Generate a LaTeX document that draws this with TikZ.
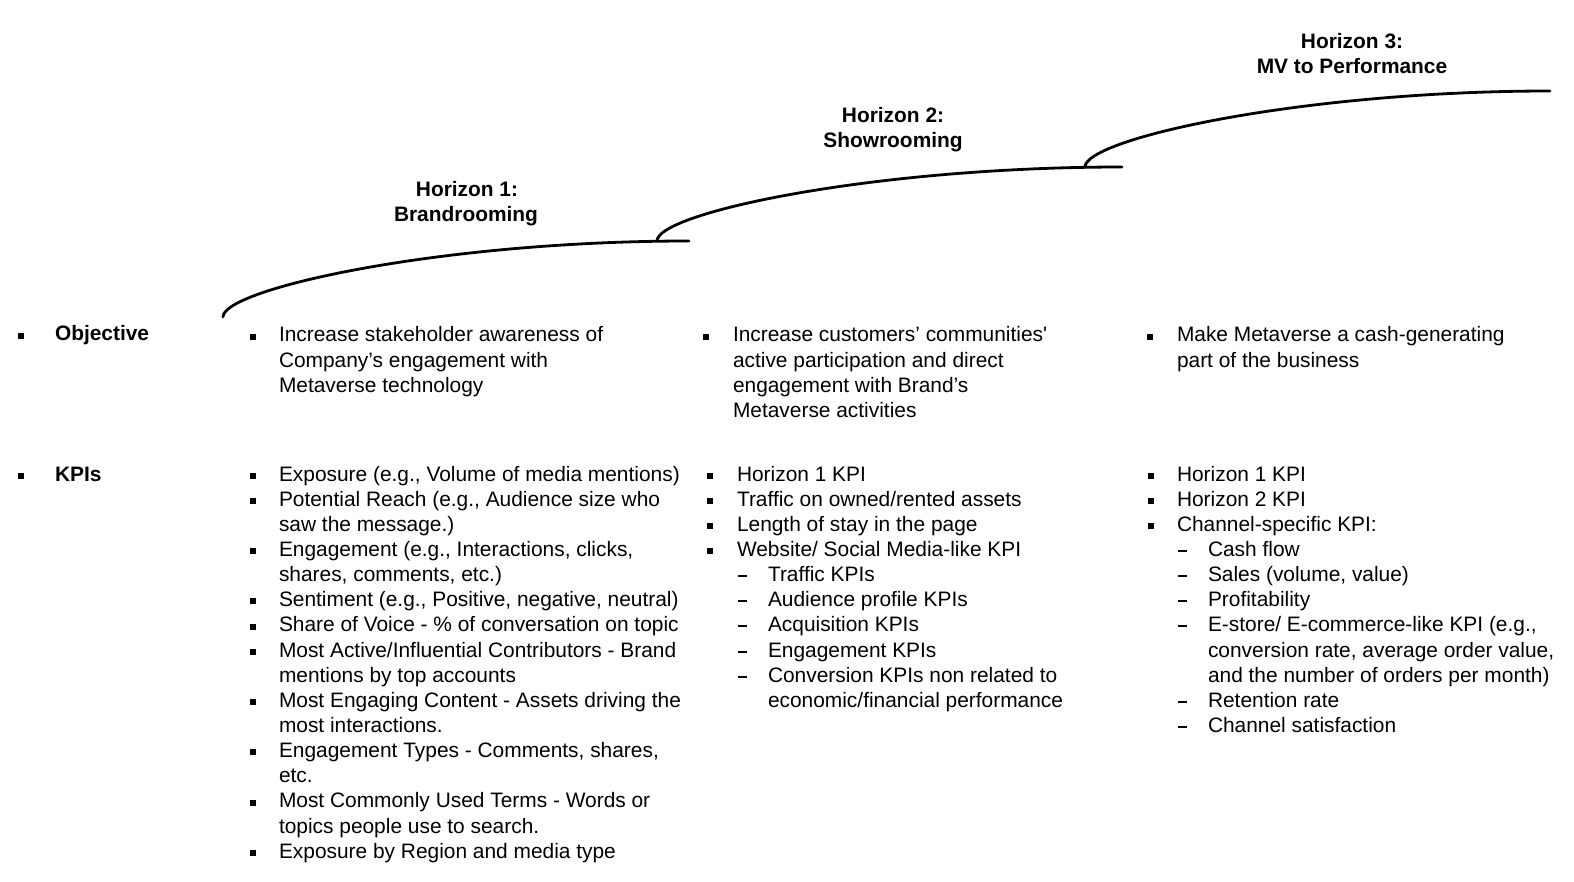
\documentclass[tikz,border=0pt]{standalone}
\usepackage{fontspec}
\setmainfont{Liberation Sans}
\tikzset{
  txt/.style={inner sep=0pt, outer sep=0pt, anchor=base west, font=\fontsize{20.9}{25.15}\selectfont},
  head/.style={inner sep=0pt, outer sep=0pt, anchor=base, font=\fontsize{20.9}{25.15}\selectfont\bfseries},
  bul/.style={fill=black, inner sep=0pt, minimum width=6pt, minimum height=6pt, rectangle},
  dsh/.style={fill=black, inner sep=0pt, minimum width=9pt, minimum height=2pt, rectangle},
  horizon/.style={line width=2.8pt, line cap=round}
}
\newcommand\Ln[4]{\node[txt] (#1) at (#2,{#3}) {#4};}
\newcommand\Bu[3]{\node[bul] (#1) at ({#2+3},{#3-5.4}) {};}
\newcommand\Da[3]{\node[dsh] (#1) at ({#2+4.5},{#3-5.5}) {};}
\begin{document}
\begin{tikzpicture}[x=1pt,y=-1pt]
\useasboundingbox (0,0) rectangle (1574,882);
\fill[white] (0,0) rectangle (1574,882);

% horizon curves
\coordinate (c1s) at (223,317);
\coordinate (c1e) at (689,241);
\coordinate (c2s) at (657,241);
\coordinate (c2e) at (1122,167);
\coordinate (c3s) at (1085,167);
\coordinate (c3e) at (1550,91);
\draw[horizon] (c1s) .. controls +(0,-28) and +(-250,0) .. (c1e);
\draw[horizon] (c2s) .. controls +(0,-28) and +(-250,0) .. (c2e);
\draw[horizon] (c3s) .. controls +(0,-28) and +(-250,0) .. (c3e);

% headings
\node[head] (h1a) at (467,197) {Horizon 1:};
\node[head] (h1b) at (466,222) {Brandrooming};
\node[head] (h2a) at (893,123) {Horizon 2:};
\node[head] (h2b) at (893,148) {Showrooming};
\node[head] (h3a) at (1352,49) {Horizon 3:};
\node[head] (h3b) at (1352,74) {MV to Performance};

% row labels
\Bu{bo}{18}{341}
\node[txt,font=\fontsize{20.9}{25.15}\selectfont\bfseries] (lobj) at (55,341) {Objective};
\Bu{bk}{18}{481}
\node[txt,font=\fontsize{20.9}{25.15}\selectfont\bfseries] (lkpi) at (55,481) {KPIs};

% objectives
\Bu{o1b}{250}{342}
\Ln{o1a}{279}{342}{Increase stakeholder awareness of}
\Ln{o1c}{279}{342+25.15}{Company’s engagement with}
\Ln{o1d}{279}{342+25.15*2}{Metaverse technology}

\Bu{o2b}{703}{342}
\Ln{o2a}{733}{342}{Increase customers’ communities\textquotesingle}
\Ln{o2c}{733}{342+25.15}{active participation and direct}
\Ln{o2d}{733}{342+25.15*2}{engagement with Brand’s}
\Ln{o2e}{733}{342+25.15*3}{Metaverse activities}

\Bu{o3b}{1147}{342}
\Ln{o3a}{1177}{342}{Make Metaverse a cash-generating}
\Ln{o3c}{1177}{342+25.15}{part of the business}

% KPIs column 1
\Bu{k1b0}{250}{481}
\Ln{k1l0}{279}{481}{Exposure (e.g., Volume of media mentions)}
\Bu{k1b1}{250}{481+25.15}
\Ln{k1l1}{279}{481+25.15}{Potential Reach (e.g., Audience size who}
\Ln{k1l2}{279}{481+25.15*2}{saw the message.)}
\Bu{k1b3}{250}{481+25.15*3}
\Ln{k1l3}{279}{481+25.15*3}{Engagement (e.g., Interactions, clicks,}
\Ln{k1l4}{279}{481+25.15*4}{shares, comments, etc.)}
\Bu{k1b5}{250}{481+25.15*5}
\Ln{k1l5}{279}{481+25.15*5}{Sentiment (e.g., Positive, negative, neutral)}
\Bu{k1b6}{250}{481+25.15*6}
\Ln{k1l6}{279}{481+25.15*6}{Share of Voice - \% of conversation on topic}
\Bu{k1b7}{250}{481+25.15*7}
\Ln{k1l7}{279}{481+25.15*7}{Most Active/Influential Contributors - Brand}
\Ln{k1l8}{279}{481+25.15*8}{mentions by top accounts}
\Bu{k1b9}{250}{481+25.15*9}
\Ln{k1l9}{279}{481+25.15*9}{Most Engaging Content - Assets driving the}
\Ln{k1l10}{279}{481+25.15*10}{most interactions.}
\Bu{k1b11}{250}{481+25.15*11}
\Ln{k1l11}{279}{481+25.15*11}{Engagement Types - Comments, shares,}
\Ln{k1l12}{279}{481+25.15*12}{etc.}
\Bu{k1b13}{250}{481+25.15*13}
\Ln{k1l13}{279}{481+25.15*13}{Most Commonly Used Terms - Words or}
\Ln{k1l14}{279}{481+25.15*14}{topics people use to search.}
\Bu{k1b15}{250}{481+25.15*15}
\Ln{k1l15}{279}{481+25.15*15}{Exposure by Region and media type}

% KPIs column 2
\Bu{k2b0}{707}{481}
\Ln{k2l0}{737}{481}{Horizon 1 KPI}
\Bu{k2b1}{707}{481+25.15}
\Ln{k2l1}{737}{481+25.15}{Traffic on owned/rented assets}
\Bu{k2b2}{707}{481+25.15*2}
\Ln{k2l2}{737}{481+25.15*2}{Length of stay in the page}
\Bu{k2b3}{707}{481+25.15*3}
\Ln{k2l3}{737}{481+25.15*3}{Website/ Social Media-like KPI}
\Da{k2d4}{738}{481+25.15*4}
\Ln{k2l4}{768}{481+25.15*4}{Traffic KPIs}
\Da{k2d5}{738}{481+25.15*5}
\Ln{k2l5}{768}{481+25.15*5}{Audience profile KPIs}
\Da{k2d6}{738}{481+25.15*6}
\Ln{k2l6}{768}{481+25.15*6}{Acquisition KPIs}
\Da{k2d7}{738}{481+25.15*7}
\Ln{k2l7}{768}{481+25.15*7}{Engagement KPIs}
\Da{k2d8}{738}{481+25.15*8}
\Ln{k2l8}{768}{481+25.15*8}{Conversion KPIs non related to}
\Ln{k2l9}{768}{481+25.15*9}{economic/financial performance}

% KPIs column 3
\Bu{k3b0}{1148}{481}
\Ln{k3l0}{1177}{481}{Horizon 1 KPI}
\Bu{k3b1}{1148}{481+25.15}
\Ln{k3l1}{1177}{481+25.15}{Horizon 2 KPI}
\Bu{k3b2}{1148}{481+25.15*2}
\Ln{k3l2}{1177}{481+25.15*2}{Channel-specific KPI:}
\Da{k3d3}{1178}{481+25.15*3}
\Ln{k3l3}{1208}{481+25.15*3}{Cash flow}
\Da{k3d4}{1178}{481+25.15*4}
\Ln{k3l4}{1208}{481+25.15*4}{Sales (volume, value)}
\Da{k3d5}{1178}{481+25.15*5}
\Ln{k3l5}{1208}{481+25.15*5}{Profitability}
\Da{k3d6}{1178}{481+25.15*6}
\Ln{k3l6}{1208}{481+25.15*6}{E-store/ E-commerce-like KPI (e.g.,}
\Ln{k3l7}{1208}{481+25.15*7}{conversion rate, average order value,}
\Ln{k3l8}{1208}{481+25.15*8}{and the number of orders per month)}
\Da{k3d9}{1178}{481+25.15*9}
\Ln{k3l9}{1208}{481+25.15*9}{Retention rate}
\Da{k3d10}{1178}{481+25.15*10}
\Ln{k3l10}{1208}{481+25.15*10}{Channel satisfaction}
\end{tikzpicture}
\end{document}
